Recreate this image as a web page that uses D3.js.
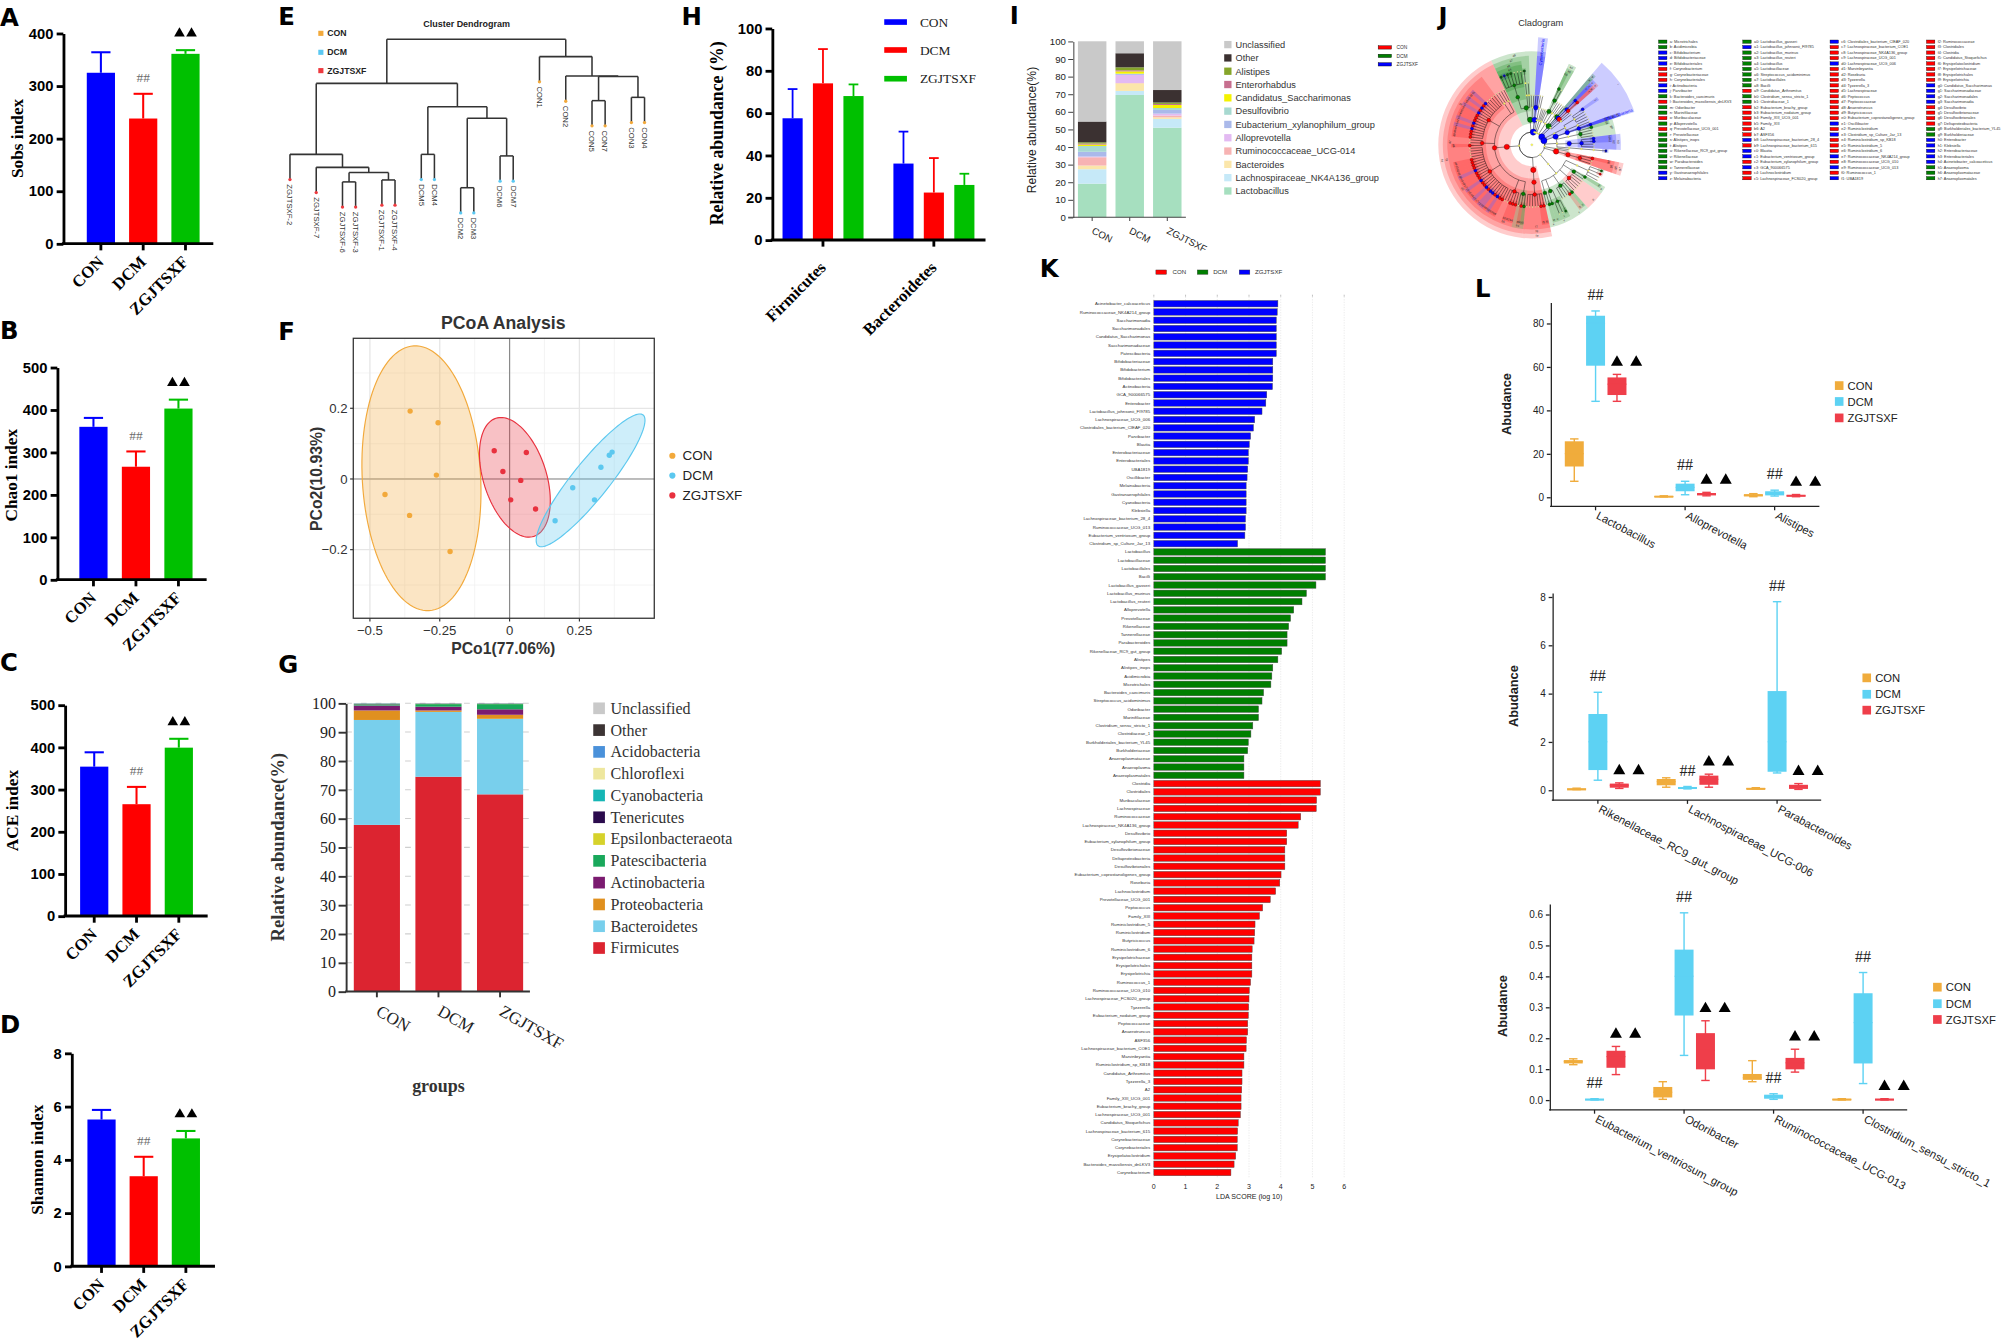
<!DOCTYPE html>
<html><head><meta charset="utf-8"><title>Gut microbiota figure</title>
<script src="https://cdn.jsdelivr.net/npm/d3@7/dist/d3.min.js"></script>
<style>html,body{margin:0;padding:0;background:#fff;overflow:hidden}svg{display:block}</style>
</head><body>
<svg id="fig" width="2010" height="1342" viewBox="0 0 1568 1046.9" preserveAspectRatio="none"></svg>
<script>
// ======================= DATA =======================
const groups = ["CON", "DCM", "ZGJTSXF"];
// A-D alpha diversity: mean and SD
const sobsMean = [325, 238, 361], sobsSD = [39, 47, 7], sobsTicks = [0, 100, 200, 300, 400];
const chao1Mean = [360, 266, 403], chao1SD = [21, 36, 21], chao1Ticks = [0, 100, 200, 300, 400, 500];
const aceMean = [354, 265, 399], aceSD = [34, 41, 21], aceTicks = [0, 100, 200, 300, 400, 500];
const shannonMean = [5.51, 3.38, 4.80], shannonSD = [0.36, 0.73, 0.28], shannonTicks = [0, 2, 4, 6, 8];

// E dendrogram (merge heights, leaves in plotted order)
const dendroTree = {h: 1.0, c: [
  {h: 0.773, c: [
    {h: 0.407, c: ["ZGJTSXF-2", {h: 0.340, c: ["ZGJTSXF-7", {h: 0.313, c: [
      {h: 0.265, c: ["ZGJTSXF-6", "ZGJTSXF-3"]}, {h: 0.275, c: ["ZGJTSXF-1", "ZGJTSXF-4"]}]}]}]},
    {h: 0.653, c: [{h: 0.407, c: ["DCM5", "DCM4"]},
      {h: 0.593, c: [{h: 0.235, c: ["DCM2", "DCM3"]}, {h: 0.399, c: ["DCM6", "DCM7"]}]}]}]},
  {h: 0.911, c: ["CON1", {h: 0.811, c: ["CON2", {h: 0.808, c: [
      {h: 0.684, c: ["CON5", "CON7"]}, {h: 0.701, c: ["CON3", "CON4"]}]}]}]}]};
const dendroSlots = [0, 2, 4, 5, 7, 8, 10, 11, 13, 14, 16, 17, 19, 21, 23, 24, 26, 27];
const dendroHang = 0.13;

// F PCoA
const pcoaCON = [[-0.356, 0.192], [-0.256, 0.159], [-0.262, 0.011], [-0.446, -0.044], [-0.358, -0.103], [-0.213, -0.205]];
const pcoaDCM = [[0.163, -0.118], [0.226, -0.025], [0.304, -0.059], [0.327, 0.033], [0.357, 0.067], [0.367, 0.076]];
const pcoaZGJ = [[-0.055, 0.080], [0.060, 0.075], [-0.024, 0.021], [0.040, -0.004], [0.004, -0.059], [0.093, -0.085]];
const ellipseCON = {c: [-0.3155, 0.002], u: [-0.0274, 0.3745], v: [0.2114, 0.0097]};
const ellipseZGJ = {c: [0.019, 0.0047], u: [-0.068, 0.167], v: [0.107, 0.0275]};
const ellipseDCM = {c: [0.290, -0.004], u: [0.188, 0.185], v: [0.051, -0.0325]};
const pcoaXTicks = [-0.5, -0.25, 0, 0.25], pcoaYTicks = [-0.2, 0, 0.2];

// G phylum composition (%), stacked bottom -> top
const phylumNames = ["Firmicutes", "Bacteroidetes", "Proteobacteria", "Actinobacteria", "Patescibacteria", "Epsilonbacteraeota", "Tenericutes", "Cyanobacteria", "Chloroflexi", "Acidobacteria", "Other", "Unclassified"];
const phylumCON = [57.8, 36.4, 3.3, 1.7, 0.4, 0.05, 0.1, 0.1, 0.02, 0.02, 0.06, 0.05];
const phylumDCM = [74.5, 22.5, 0.5, 1.3, 0.9, 0.05, 0.05, 0.05, 0.02, 0.02, 0.06, 0.05];
const phylumZGJ = [68.4, 26.2, 1.4, 1.9, 1.8, 0.05, 0.08, 0.05, 0.02, 0.02, 0.03, 0.05];
const phylumColors = ["#DC2430", "#78CFEC", "#E0901F", "#7B1B70", "#19A85B", "#D6D22B", "#2B0B4D", "#16B6B5", "#EEE79E", "#4A91DA", "#3C3434", "#C9C9C9"];
const pctTicks = [0, 10, 20, 30, 40, 50, 60, 70, 80, 90, 100];

// H Firmicutes / Bacteroidetes (mean, SD)
const hPhyla = ["Firmicutes", "Bacteroidetes"];
const firmMean = [57.5, 74.0, 68.0], firmSD = [13.8, 16.2, 5.5];
const bactMean = [36.1, 22.4, 26.0], bactSD = [15.1, 16.3, 5.3];
const hTicks = [0, 20, 40, 60, 80, 100];

// I genus composition (%), stacked bottom -> top
const genusNames = ["Lactobacillus", "Lachnospiraceae_NK4A136_group", "Bacteroides", "Ruminococcaceae_UCG-014", "Alloprevotella", "Eubacterium_xylanophilum_group", "Desulfovibrio", "Candidatus_Saccharimonas", "Enterorhabdus", "Alistipes", "Other", "Unclassified"];
const genusCON = [19.1, 8.2, 2.1, 4.7, 0.4, 2.7, 3.3, 0.8, 0.6, 0.7, 11.8, 45.6];
const genusDCM = [69.5, 2.3, 4.3, 0.2, 4.6, 0.5, 0.2, 1.3, 0.6, 1.7, 8.0, 6.8];
const genusZGJ = [50.9, 5.0, 0.9, 1.0, 1.1, 2.1, 1.1, 1.7, 0.6, 0.8, 7.1, 27.7];
const genusColors = ["#A6DFBF", "#C6E9F8", "#FBE6AA", "#F7B3B3", "#E3BAF2", "#AAB9EA", "#A7D9D0", "#F4F200", "#C76F8F", "#86A52A", "#3B3131", "#C9C9C9"];

// K LEfSe LDA scores
const kZgjTaxa = ["Acinetobacter_calcoaceticus", "Ruminococcaceae_NK4A214_group", "Saccharimonadia", "Saccharimonadales", "Candidatus_Saccharimonas", "Saccharimonadaceae", "Patescibacteria", "Bifidobacteriaceae", "Bifidobacterium", "Bifidobacteriales", "Actinobacteria", "GCA_900066575", "Enterobacter", "Lactobacillus_johnsonii_FI9785", "Lachnospiraceae_UCG_006", "Clostridiales_bacterium_CIEAF_020", "Parvibacter", "Blautia", "Enterobacteriaceae", "Enterobacteriales", "UBA1819", "Oscillibacter", "Melainabacteria", "Gastranaerophilales", "Cyanobacteria", "Klebsiella", "Lachnospiraceae_bacterium_28_4", "Ruminococcaceae_UCG_013", "Eubacterium_ventriosum_group", "Clostridium_sp_Culture_Jar_13"];
const kZgjLDA = [3.91, 3.89, 3.86, 3.86, 3.86, 3.86, 3.86, 3.75, 3.75, 3.75, 3.74, 3.56, 3.53, 3.41, 3.18, 3.14, 3.05, 3.01, 2.98, 2.98, 2.96, 2.94, 2.91, 2.91, 2.91, 2.91, 2.89, 2.89, 2.87, 2.64];
const kDcmTaxa = ["Lactobacillus", "Lactobacillaceae", "Lactobacillales", "Bacilli", "Lactobacillus_gasseri", "Lactobacillus_murinus", "Lactobacillus_reuteri", "Alloprevotella", "Prevotellaceae", "Rikenellaceae", "Tannerellaceae", "Parabacteroides", "Rikenellaceae_RC9_gut_group", "Alistipes", "Alistipes_inops", "Acidimicrobia", "Microtrichales", "Bacteroides_caecimuris", "Streptococcus_acidominimus", "Odoribacter", "Marinifilaceae", "Clostridium_sensu_stricto_1", "Clostridiaceae_1", "Burkholderiales_bacterium_YL45", "Burkholderiaceae", "Anaeroplasmataceae", "Anaeroplasma", "Anaeroplasmatales"];
const kDcmLDA = [5.41, 5.41, 5.41, 5.41, 5.11, 4.81, 4.67, 4.41, 4.31, 4.25, 4.20, 4.20, 4.03, 3.91, 3.75, 3.72, 3.69, 3.46, 3.41, 3.30, 3.30, 3.12, 3.06, 2.98, 2.96, 2.84, 2.84, 2.84];
const kConTaxa = ["Clostridia", "Clostridiales", "Muribaculaceae", "Lachnospiraceae", "Ruminococcaceae", "Lachnospiraceae_NK4A136_group", "Desulfovibrio", "Eubacterium_xylanophilum_group", "Desulfovibrionaceae", "Deltaproteobacteria", "Desulfovibrionales", "Eubacterium_coprostanoligenes_group", "Roseburia", "Lachnoclostridium", "Prevotellaceae_UCG_001", "Peptococcus", "Family_XIII", "Ruminiclostridium_5", "Ruminiclostridium", "Butyricicoccus", "Ruminiclostridium_6", "Erysipelotrichaceae", "Erysipelotrichales", "Erysipelotrichia", "Ruminococcus_1", "Ruminococcaceae_UCG_010", "Lachnospiraceae_FCS020_group", "Tyzzerella", "Eubacterium_nodatum_group", "Peptococcaceae", "Anaerotruncus", "ASF356", "Lachnospiraceae_bacterium_COE1", "Marvinbryantia", "Ruminiclostridium_sp_KB18", "Candidatus_Arthromitus", "Tyzzerella_3", "A2", "Family_XIII_UCG_001", "Eubacterium_brachy_group", "Lachnospiraceae_UCG_001", "Candidatus_Stoquefichus", "Lachnospiraceae_bacterium_615", "Corynebacteriaceae", "Corynebacteriales", "Erysipelatoclostridium", "Bacteroides_massiliensis_dnLKV3", "Corynebacterium"];
const kConLDA = [5.25, 5.25, 5.13, 5.12, 4.63, 4.55, 4.19, 4.19, 4.13, 4.13, 4.13, 4.01, 3.97, 3.84, 3.67, 3.43, 3.33, 3.19, 3.18, 3.16, 3.10, 3.09, 3.09, 3.09, 3.05, 3.01, 3.00, 2.99, 2.98, 2.96, 2.96, 2.92, 2.91, 2.84, 2.84, 2.78, 2.78, 2.77, 2.75, 2.75, 2.73, 2.66, 2.64, 2.63, 2.63, 2.58, 2.53, 2.43];
const kTicks = [0, 1, 2, 3, 4, 5, 6];

// J cladogram taxonomy (last field may list several taxa; *n = n unlabelled taxa)
const cladoLineages = [
  "Tenericutes;Mollicutes;Anaeroplasmatales;Anaeroplasmataceae;Anaeroplasma,*1",
  "Tenericutes;Mollicutes;Mollicutes_RF39;*2",
  "Tenericutes;Mollicutes;Mycoplasmatales;*2",
  "Actinobacteria;Acidimicrobia;Microtrichales;*1",
  "Actinobacteria;Actinobacteria_c;Bifidobacteriales;Bifidobacteriaceae;Bifidobacterium",
  "Actinobacteria;Actinobacteria_c;Corynebacteriales;Corynebacteriaceae;Corynebacterium",
  "Actinobacteria;Actinobacteria_c;Micrococcales;*2",
  "Actinobacteria;Coriobacteriia;Coriobacteriales;Eggerthellaceae;Parvibacter,*3",
  "Actinobacteria;Coriobacteriia;Coriobacteriales;Atopobiaceae;*2",
  "Patescibacteria;Saccharimonadia;Saccharimonadales;Saccharimonadaceae;Candidatus_Saccharimonas",
  "Proteobacteria;Gammaproteobacteria;Betaproteobacteriales;Burkholderiaceae;Burkholderiales_bacterium_YL45,*3",
  "Proteobacteria;Gammaproteobacteria;Enterobacteriales;Enterobacteriaceae;Enterobacter,Klebsiella,*2",
  "Proteobacteria;Gammaproteobacteria;Pseudomonadales;Moraxellaceae;Acinetobacter;Acinetobacter_calcoaceticus",
  "Proteobacteria;Alphaproteobacteria;*2",
  "Proteobacteria;Deltaproteobacteria;Desulfovibrionales;Desulfovibrionaceae;Desulfovibrio,*2",
  "Bacteroidetes;Bacteroidia;Bacteroidales;Bacteroidaceae;Bacteroides;Bacteroides_caecimuris,Bacteroides_massiliensis_dnLKV3,*2",
  "Bacteroidetes;Bacteroidia;Bacteroidales;Marinifilaceae;Odoribacter,*1",
  "Bacteroidetes;Bacteroidia;Bacteroidales;Muribaculaceae;*5",
  "Bacteroidetes;Bacteroidia;Bacteroidales;Prevotellaceae;Alloprevotella,Prevotellaceae_UCG_001,*3",
  "Bacteroidetes;Bacteroidia;Bacteroidales;Rikenellaceae;Alistipes;Alistipes_inops,*2",
  "Bacteroidetes;Bacteroidia;Bacteroidales;Rikenellaceae;Rikenellaceae_RC9_gut_group",
  "Bacteroidetes;Bacteroidia;Bacteroidales;Tannerellaceae;Parabacteroides,*1",
  "Firmicutes;Erysipelotrichia;Erysipelotrichales;Erysipelotrichaceae;Erysipelatoclostridium,Candidatus_Stoquefichus,*5",
  "Firmicutes;Clostridia;Clostridiales;Clostridiaceae_1;Clostridium_sensu_stricto_1,Candidatus_Arthromitus,*1",
  "Firmicutes;Clostridia;Clostridiales;Family_XIII;Family_XIII_UCG_001,Eubacterium_brachy_group,Eubacterium_nodatum_group,*2",
  "Firmicutes;Clostridia;Clostridiales;Lachnospiraceae;A2,ASF356,Lachnospiraceae_bacterium_28_4,Lachnospiraceae_bacterium_615,Blautia,Eubacterium_ventriosum_group,Eubacterium_xylanophilum_group,GCA_900066575,Lachnoclostridium,Lachnospiraceae_FCS020_group,Clostridiales_bacterium_CIEAF_020,Lachnospiraceae_bacterium_COE1,Lachnospiraceae_NK4A136_group,Lachnospiraceae_UCG_001,Lachnospiraceae_UCG_006,Marvinbryantia,Roseburia,Tyzzerella,Tyzzerella_3,*4",
  "Firmicutes;Clostridia;Clostridiales;Peptococcaceae;Peptococcus,*2",
  "Firmicutes;Clostridia;Clostridiales;Ruminococcaceae;Anaerotruncus,Butyricicoccus,Eubacterium_coprostanoligenes_group,Oscillibacter,Ruminiclostridium,Clostridium_sp_Culture_Jar_13,Ruminiclostridium_sp_KB18,Ruminiclostridium_5,Ruminiclostridium_6,Ruminococcaceae_NK4A214_group,Ruminococcaceae_UCG_010,Ruminococcaceae_UCG_013,Ruminococcus_1,UBA1819,*4",
  "Firmicutes;Clostridia;Clostridiales;Peptostreptococcaceae;*2",
  "Firmicutes;Clostridia;Clostridiales;Defluviitaleaceae;*2",
  "Firmicutes;Bacilli;Lactobacillales;Lactobacillaceae;Lactobacillus;Lactobacillus_gasseri,Lactobacillus_johnsonii_FI9785,Lactobacillus_murinus,Lactobacillus_reuteri,*3",
  "Firmicutes;Bacilli;Lactobacillales;Streptococcaceae;Streptococcus;Streptococcus_acidominimus",
  "Firmicutes;Bacilli;Lactobacillales;Enterococcaceae;*1",
  "Firmicutes;Bacilli;Bacillales;*2",
  "Cyanobacteria;Melainabacteria;Gastranaerophilales;*2",
  "Deferribacteres;Deferribacteres_c;Deferribacterales;*2",
  "Verrucomicrobia;Verrucomicrobiae;*2",
  "Epsilonbacteraeota;Campylobacteria;*2"
];
const jCodes = ("a b c d e f g h i j k l m n o p q r s t u v w x y z " +
  "a0 a1 a2 a3 a4 a5 a6 a7 a8 a9 b0 b1 b2 b3 b4 b5 b6 b7 b8 b9 c0 c1 c2 c3 c4 c5 " +
  "c6 c7 c8 c9 d0 d1 d2 d3 d4 d5 d6 d7 d8 d9 e0 e1 e2 e3 e4 e5 e6 e7 e8 e9 f0 f1 " +
  "f2 f3 f4 f5 f6 f7 f8 f9 g0 g1 g2 g3 g4 g5 g6 g7 g8 g9 h0 h1 h2 h3 h4 h5 h6 h7").split(" ");
const jLegendNames = ["Microtrichales", "Acidimicrobia", "Bifidobacterium", "Bifidobacteriaceae", "Bifidobacteriales", "Corynebacterium", "Corynebacteriaceae", "Corynebacteriales", "Actinobacteria", "Parvibacter", "Bacteroides_caecimuris", "Bacteroides_massiliensis_dnLKV3", "Odoribacter", "Marinifilaceae", "Muribaculaceae", "Alloprevotella", "Prevotellaceae_UCG_001", "Prevotellaceae", "Alistipes_inops", "Alistipes", "Rikenellaceae_RC9_gut_group", "Rikenellaceae", "Parabacteroides", "Tannerellaceae", "Gastranaerophilales", "Melainabacteria",
  "Lactobacillus_gasseri", "Lactobacillus_johnsonii_FI9785", "Lactobacillus_murinus", "Lactobacillus_reuteri", "Lactobacillus", "Lactobacillaceae", "Streptococcus_acidominimus", "Lactobacillales", "Bacilli", "Candidatus_Arthromitus", "Clostridium_sensu_stricto_1", "Clostridiaceae_1", "Eubacterium_brachy_group", "Eubacterium_nodatum_group", "Family_XIII_UCG_001", "Family_XIII", "A2", "ASF356", "Lachnospiraceae_bacterium_28_4", "Lachnospiraceae_bacterium_615", "Blautia", "Eubacterium_ventriosum_group", "Eubacterium_xylanophilum_group", "GCA_900066575", "Lachnoclostridium", "Lachnospiraceae_FCS020_group",
  "Clostridiales_bacterium_CIEAF_020", "Lachnospiraceae_bacterium_COE1", "Lachnospiraceae_NK4A136_group", "Lachnospiraceae_UCG_001", "Lachnospiraceae_UCG_006", "Marvinbryantia", "Roseburia", "Tyzzerella", "Tyzzerella_3", "Lachnospiraceae", "Peptococcus", "Peptococcaceae", "Anaerotruncus", "Butyricicoccus", "Eubacterium_coprostanoligenes_group", "Oscillibacter", "Ruminiclostridium", "Clostridium_sp_Culture_Jar_13", "Ruminiclostridium_sp_KB18", "Ruminiclostridium_5", "Ruminiclostridium_6", "Ruminococcaceae_NK4A214_group", "Ruminococcaceae_UCG_010", "Ruminococcaceae_UCG_013", "Ruminococcus_1", "UBA1819",
  "Ruminococcaceae", "Clostridiales", "Clostridia", "Candidatus_Stoquefichus", "Erysipelatoclostridium", "Erysipelotrichaceae", "Erysipelotrichales", "Erysipelotrichia", "Candidatus_Saccharimonas", "Saccharimonadaceae", "Saccharimonadales", "Saccharimonadia", "Desulfovibrio", "Desulfovibrionaceae", "Desulfovibrionales", "Deltaproteobacteria", "Burkholderiales_bacterium_YL45", "Burkholderiaceae", "Enterobacter", "Klebsiella", "Enterobacteriaceae", "Enterobacteriales", "Acinetobacter_calcoaceticus", "Anaeroplasma", "Anaeroplasmataceae", "Anaeroplasmatales"];

// L box plots: [low whisker, Q1, median, Q3, high whisker] for CON, DCM, ZGJTSXF
const lTopTaxa = ["Lactobacillus", "Alloprevotella", "Alistipes"];
const lTopStats = [
  [[7.3, 14.1, 20, 25.7, 26.8], [44.1, 60.5, 80, 83.5, 85.7], [44.1, 47.0, 52, 55.1, 56.5]],
  [[0.1, 0.2, 0.3, 0.4, 0.6], [1.1, 2.7, 4.5, 6.2, 7.3], [0.6, 0.8, 1.2, 1.9, 2.2]],
  [[0.2, 0.3, 0.8, 1.4, 1.6], [0.5, 0.8, 1.8, 2.7, 3.2], [0.2, 0.3, 0.6, 1.1, 1.2]]];
const lTopTicks = [0, 20, 40, 60, 80];
const lMidTaxa = ["Rikenellaceae_RC9_gut_group", "Lachnospiraceae_UCG-006", "Parabacteroides"];
const lMidStats = [
  [[0.02, 0.03, 0.05, 0.07, 0.08], [0.41, 0.83, 2.0, 3.15, 4.05], [0.07, 0.10, 0.2, 0.27, 0.30]],
  [[0.12, 0.20, 0.35, 0.46, 0.51], [0.05, 0.08, 0.1, 0.13, 0.15], [0.12, 0.22, 0.45, 0.60, 0.66]],
  [[0.04, 0.05, 0.07, 0.09, 0.10], [0.71, 0.76, 2.0, 4.10, 7.80], [0.03, 0.05, 0.15, 0.22, 0.27]]];
const lMidTicks = [0, 2, 4, 6, 8];
const lBotTaxa = ["Eubacterium_ventriosum_group", "Odoribacter", "Ruminococcaceae_UCG-013", "Clostridium_sensu_stricto_1"];
const lBotStats = [
  [[0.114, 0.118, 0.124, 0.129, 0.133], [0.0, 0.001, 0.002, 0.003, 0.004], [0.082, 0.104, 0.14, 0.159, 0.173]],
  [[0.002, 0.008, 0.025, 0.042, 0.059], [0.144, 0.273, 0.40, 0.486, 0.605], [0.063, 0.099, 0.16, 0.216, 0.256]],
  [[0.059, 0.065, 0.072, 0.084, 0.127], [0.002, 0.004, 0.01, 0.017, 0.020], [0.090, 0.099, 0.12, 0.136, 0.164]],
  [[0.0, 0.001, 0.002, 0.003, 0.004], [0.053, 0.118, 0.25, 0.345, 0.412], [0.0, 0.001, 0.002, 0.003, 0.004]]];
const lBotTicks = [0, 0.1, 0.2, 0.3, 0.4, 0.5, 0.6];

// ======================= DRAWING =======================
const svg = d3.select("#fig");
svg.append("rect").attr("width", 1568).attr("height", 1046.9).attr("fill", "#fff");
const SANS = "'Liberation Sans', Arial, Helvetica, sans-serif";
const SERIF = "'Liberation Serif', 'Times New Roman', serif";
const HEAVY = "'DejaVu Sans', 'Liberation Sans', sans-serif";
const DEG = Math.PI / 180;

function txt(parent, x, y, s, o = {}) {
  const t = parent.append("text").attr("x", x).attr("y", y).text(s)
    .attr("font-family", o.ff || SANS).attr("font-size", o.fs || 10).attr("fill", o.fill || "#000");
  if (o.fw) t.attr("font-weight", o.fw);
  if (o.anchor) t.attr("text-anchor", o.anchor);
  if (o.dy) t.attr("dy", o.dy);
  if (o.rot != null) t.attr("transform", `rotate(${o.rot},${x},${y})`);
  return t;
}
function line(parent, x1, y1, x2, y2, stroke, w, extra) {
  const l = parent.append("line").attr("x1", x1).attr("y1", y1).attr("x2", x2).attr("y2", y2)
    .attr("stroke", stroke).attr("stroke-width", w);
  if (extra) l.attr("stroke-dasharray", extra);
  return l;
}
function tri(parent, x, y, size) {
  parent.append("path").attr("d", d3.symbol(d3.symbolTriangle, size)()).attr("transform", `translate(${x},${y})`).attr("fill", "#000");
}
function styleAxis(sel, color, w, font, fs, fw, fill) {
  sel.select(".domain").attr("stroke", color).attr("stroke-width", w);
  sel.selectAll(".tick line").attr("stroke", color).attr("stroke-width", w);
  sel.selectAll(".tick text").attr("font-family", font).attr("font-size", fs).attr("font-weight", fw || "normal").attr("fill", fill || color);
}

// ---------- panel letters ----------
[["A", 0, 20.3], ["B", 0, 264.2], ["C", 0, 523.4], ["D", 0, 805.8], ["E", 217, 19.5], ["F", 217, 265.2], ["G", 217, 525.2],
 ["H", 531.7, 19.5], ["I", 787.8, 18.4], ["J", 1122.2, 19.5], ["K", 811.2, 215.8], ["L", 1150.6, 232]].forEach(([t, x, y]) =>
  txt(svg, x, y, t, {ff: HEAVY, fw: "bold", fs: 19}));

// ---------- A-D ----------
const barColors = ["#0000FF", "#FF0000", "#00C000"];
function alphaPanel(o) {
  const g = svg.append("g");
  const x = d3.scalePoint().domain(groups).range(o.centers);
  const y = d3.scaleLinear().domain([0, d3.max(o.ticks)]).range([o.y0, o.yTop]);
  const bw = 22;
  g.selectAll("rect.bar").data(o.mean).join("rect").attr("class", "bar")
    .attr("x", (d, i) => x(groups[i]) - bw / 2).attr("width", bw)
    .attr("y", d => y(d)).attr("height", d => o.y0 - y(d)).attr("fill", (d, i) => barColors[i]);
  o.mean.forEach((m, i) => {
    const cx = x(groups[i]), top = y(m + o.sd[i]);
    line(g, cx, y(m), cx, top, barColors[i], 1.6);
    line(g, cx - 7.5, top, cx + 7.5, top, barColors[i], 1.6);
  });
  txt(g, x("DCM"), y(o.mean[1] + o.sd[1]) - 9, "##", {ff: SERIF, fs: 10.5, fill: "#6b6b6b", anchor: "middle"});
  const zt = y(o.mean[2] + o.sd[2]) - 13;
  [-4.7, 4.7].forEach(dx => tri(g, x("ZGJTSXF") + dx, zt, 30));
  const ay = g.append("g").attr("transform", `translate(${o.axisX},0)`)
    .call(d3.axisLeft(y).tickValues(o.ticks).tickSize(5.2).tickSizeOuter(0).tickPadding(2.5).tickFormat(d3.format("~g")));
  styleAxis(ay, "#000", 2.2, SANS, 11.5, "bold");
  line(g, o.axisX - 1.1, o.y0, o.xEnd, o.y0, "#000", 2.2);
  groups.forEach(gr => {
    line(g, x(gr), o.y0, x(gr), o.y0 + 5.2, "#000", 2.2);
    txt(g, x(gr) + 3, o.y0 + 15, gr, {ff: SERIF, fw: "bold", fs: 13, anchor: "end", rot: -45});
  });
  txt(g, o.titleX, o.titleY, o.title, {ff: SERIF, fw: "bold", fs: 13.5, anchor: "middle", rot: -90, dy: "0.35em"});
}
alphaPanel({mean: sobsMean, sd: sobsSD, ticks: sobsTicks, centers: [78.7, 144.7], y0: 190.1, yTop: 26.0, axisX: 49.4, xEnd: 166.4, title: "Sobs index", titleX: 13, titleY: 108});
alphaPanel({mean: chao1Mean, sd: chao1SD, ticks: chao1Ticks, centers: [72.9, 139.2], y0: 452.2, yTop: 286.6, axisX: 44.7, xEnd: 161.2, title: "Chao1 index", titleX: 8.5, titleY: 370.7});
alphaPanel({mean: aceMean, sd: aceSD, ticks: aceTicks, centers: [73.5, 139.5], y0: 714.6, yTop: 550.0, axisX: 50.7, xEnd: 162, title: "ACE index", titleX: 9.5, titleY: 632.3});
alphaPanel({mean: shannonMean, sd: shannonSD, ticks: shannonTicks, centers: [79.2, 145.0], y0: 987.8, yTop: 821.6, axisX: 55.9, xEnd: 167.7, title: "Shannon index", titleX: 28.6, titleY: 904.7});

// ---------- E dendrogram ----------
(function () {
  const g = svg.append("g");
  const grpColor = {CON: "#F2A93B", DCM: "#5BC8F2", ZGJTSXF: "#EE3A3F"};
  const ex = d3.scaleLinear().domain([0, 27]).range([226.2, 502.8]);
  const ey = d3.scaleLinear().domain([0, 1]).range([182, 30.7]);
  let li = 0;
  function build(n) {
    if (typeof n === "string") return {name: n, slot: dendroSlots[li++]};
    const kids = n.c.map(build);
    return {h: n.h, kids, slot: (kids[0].slot + kids[kids.length - 1].slot) / 2};
  }
  const root = build(dendroTree);
  function draw(n) {
    line(g, ex(n.kids[0].slot), ey(n.h), ex(n.kids[n.kids.length - 1].slot), ey(n.h), "#333", 1.2);
    n.kids.forEach(k => {
      const kh = k.kids ? k.h : n.h - dendroHang;
      line(g, ex(k.slot), ey(n.h), ex(k.slot), ey(kh), "#333", 1.2);
      if (k.kids) draw(k);
      else {
        const grp = groups.find(gr => k.name.startsWith(gr));
        g.append("circle").attr("cx", ex(k.slot)).attr("cy", ey(kh)).attr("r", 1.3).attr("fill", grpColor[grp]);
        txt(g, ex(k.slot), ey(kh) + 3.6, k.name, {fs: 6, fill: "#333", rot: 90, dy: "0.35em"});
      }
    });
  }
  draw(root);
  txt(g, 364, 21, "Cluster Dendrogram", {fw: "bold", fs: 7, fill: "#222", anchor: "middle"});
  groups.forEach((gr, i) => {
    const yy = [26, 40.8, 55.1][i];
    g.append("rect").attr("x", 248.3).attr("y", yy - 2).attr("width", 4).attr("height", 4).attr("fill", grpColor[gr]);
    txt(g, 255.3, yy + 2.4, gr, {fw: "bold", fs: 6.8, fill: "#222"});
  });
})();

// ---------- F PCoA ----------
(function () {
  const g = svg.append("g");
  const L = 275.6, R = 510.4, T = 263.9, B = 482.3;
  const fx = d3.scaleLinear().domain([-0.5595, 0.518]).range([L, R]);
  const fy = d3.scaleLinear().domain([-0.394, 0.398]).range([B, T]);
  const col = {CON: "#F2A93B", DCM: "#5CC8EF", ZGJTSXF: "#E8313E"};
  [-0.375, -0.125, 0.125, 0.375].forEach(v => line(g, fx(v), T, fx(v), B, "#F0F0F0", 0.6));
  [-0.3, -0.1, 0.1, 0.3].forEach(v => line(g, L, fy(v), R, fy(v), "#F0F0F0", 0.6));
  pcoaXTicks.forEach(v => line(g, fx(v), T, fx(v), B, "#E6E6E6", 1));
  pcoaYTicks.forEach(v => line(g, L, fy(v), R, fy(v), "#E6E6E6", 1));
  line(g, fx(0), T, fx(0), B, "#8a8a8a", 0.9);
  line(g, L, fy(0), R, fy(0), "#8a8a8a", 0.9);
  const ellPath = e => {
    const pts = d3.range(0, 2 * Math.PI + 0.001, Math.PI / 60).map(t =>
      [fx(e.c[0] + e.u[0] * Math.cos(t) + e.v[0] * Math.sin(t)), fy(e.c[1] + e.u[1] * Math.cos(t) + e.v[1] * Math.sin(t))]);
    return d3.line()(pts) + "Z";
  };
  [[ellipseCON, "CON"], [ellipseZGJ, "ZGJTSXF"], [ellipseDCM, "DCM"]].forEach(([e, k]) =>
    g.append("path").attr("d", ellPath(e)).attr("fill", col[k]).attr("fill-opacity", 0.3).attr("stroke", col[k]).attr("stroke-width", 0.9));
  [[pcoaCON, "CON"], [pcoaZGJ, "ZGJTSXF"], [pcoaDCM, "DCM"]].forEach(([pts, k]) =>
    g.selectAll(null).data(pts).join("circle").attr("cx", d => fx(d[0])).attr("cy", d => fy(d[1])).attr("r", 2.1).attr("fill", col[k]));
  g.append("rect").attr("x", L).attr("y", T).attr("width", R - L).attr("height", B - T).attr("fill", "none").attr("stroke", "#333").attr("stroke-width", 1);
  pcoaXTicks.forEach(v => { line(g, fx(v), B, fx(v), B + 2.5, "#333", 0.9); txt(g, fx(v), B + 12.8, d3.format("~g")(v), {fs: 10.3, fill: "#333", anchor: "middle"}); });
  pcoaYTicks.forEach(v => { line(g, L - 2.5, fy(v), L, fy(v), "#333", 0.9); txt(g, L - 4.5, fy(v) + 3.6, d3.format("~g")(v), {fs: 10.3, fill: "#333", anchor: "end"}); });
  txt(g, 392.6, 256.5, "PCoA Analysis", {fw: "bold", fs: 13.8, fill: "#333", anchor: "middle"});
  txt(g, 392.6, 510, "PCo1(77.06%)", {fw: "bold", fs: 12.3, fill: "#333", anchor: "middle"});
  txt(g, 247, 373.6, "PCo2(10.93%)", {fw: "bold", fs: 12.3, fill: "#333", anchor: "middle", rot: -90, dy: "0.35em"});
  groups.forEach((gr, i) => {
    const yy = [355.5, 371, 386.5][i];
    g.append("circle").attr("cx", 524.5).attr("cy", yy).attr("r", 2.4).attr("fill", col[gr]);
    txt(g, 532.5, yy + 3.7, gr, {fs: 10.5, fill: "#222"});
  });
})();

// ---------- G phylum stacked bars ----------
(function () {
  const g = svg.append("g");
  const x = d3.scalePoint().domain(groups).range([294, 390.1]);
  const y = d3.scaleLinear().domain([0, 100]).range([773.5, 548.6]);
  const vals = [phylumCON, phylumDCM, phylumZGJ];
  const rows = groups.map((gr, gi) => { const o = {group: gr}; phylumNames.forEach((p, pi) => o[p] = vals[gi][pi]); return o; });
  const series = d3.stack().keys(phylumNames)(rows);
  pctTicks.slice(1).forEach(v => line(g, 270, y(v), 413.4, y(v), "#cfcfcf", 0.8, "4.5,7"));
  series.forEach((s, si) => g.selectAll(null).data(s).join("rect")
    .attr("x", (d, i) => x(groups[i]) - 18).attr("width", 36)
    .attr("y", d => y(d[1])).attr("height", d => Math.max(0, y(d[0]) - y(d[1]))).attr("fill", phylumColors[si]));
  const ay = g.append("g").attr("transform", "translate(269.9,0)")
    .call(d3.axisLeft(y).tickValues(pctTicks).tickSize(5.8).tickSizeOuter(0).tickPadding(2));
  styleAxis(ay, "#333", 1.5, SERIF, 12.5, "normal", "#222");
  line(g, 269.2, 773.5, 413.4, 773.5, "#333", 1.5);
  groups.forEach(gr => {
    line(g, x(gr), 773.5, x(gr), 778, "#333", 1.5);
    txt(g, x(gr) - 1.5, 791.5, gr, {ff: SERIF, fs: 13.2, fill: "#222", rot: 30});
  });
  txt(g, 216.3, 660.9, "Relative abundance(%)", {ff: SERIF, fw: "bold", fs: 14.6, fill: "#333", anchor: "middle", rot: -90, dy: "0.35em"});
  txt(g, 342, 851.5, "groups", {ff: SERIF, fw: "bold", fs: 14, fill: "#333", anchor: "middle"});
  phylumNames.slice().reverse().forEach((p, i) => {
    const yy = 552.5 + i * 17.0, ci = phylumNames.indexOf(p);
    g.append("rect").attr("x", 462.8).attr("y", yy - 4.5).attr("width", 9.1).attr("height", 9.1).attr("fill", phylumColors[ci]);
    txt(g, 476.3, yy + 4.3, p, {ff: SERIF, fs: 12.5, fill: "#333"});
  });
})();

// ---------- H ----------
(function () {
  const g = svg.append("g");
  const x0 = d3.scalePoint().domain(hPhyla).range([642, 728.5]);
  const y = d3.scaleLinear().domain([0, 100]).range([187.2, 22.1]);
  const offs = [-23.7, 0, 23.8], bw = 15.7;
  const means = [firmMean, bactMean], sds = [firmSD, bactSD];
  hPhyla.forEach((p, pi) => groups.forEach((gr, gi) => {
    const cx = x0(p) + offs[gi], m = means[pi][gi], top = y(m + sds[pi][gi]);
    g.append("rect").attr("x", cx - bw / 2).attr("width", bw).attr("y", y(m)).attr("height", 187.2 - y(m)).attr("fill", barColors[gi]);
    line(g, cx, y(m), cx, top, barColors[gi], 1.4);
    line(g, cx - 3.8, top, cx + 3.8, top, barColors[gi], 1.4);
  }));
  const ay = g.append("g").attr("transform", "translate(602.4,0)")
    .call(d3.axisLeft(y).tickValues(hTicks).tickSize(5.2).tickSizeOuter(0).tickPadding(2.5));
  styleAxis(ay, "#000", 2.2, SANS, 11.5, "bold");
  line(g, 601.3, 187.2, 768.8, 187.2, "#000", 2.2);
  hPhyla.forEach(p => {
    line(g, x0(p), 187.2, x0(p), 192.4, "#000", 2.2);
    txt(g, x0(p) + 3, 209.5, p, {ff: SERIF, fw: "bold", fs: 13, anchor: "end", rot: -45});
  });
  txt(g, 559, 104, "Relative abundance (%)", {ff: SERIF, fw: "bold", fs: 13.9, anchor: "middle", rot: -90, dy: "0.35em"});
  groups.forEach((gr, i) => {
    const yy = [17.2, 39, 61.4][i];
    g.append("rect").attr("x", 689.8).attr("y", yy - 2.2).attr("width", 17.7).attr("height", 4.4).attr("fill", barColors[i]);
    txt(g, 717.6, yy + 3.6, gr, {ff: SERIF, fs: 10.5, fill: "#222"});
  });
})();

// ---------- I genus stacked bars ----------
(function () {
  const g = svg.append("g");
  const x = d3.scalePoint().domain(groups).range([852, 910.6]);
  const y = d3.scaleLinear().domain([0, 100]).range([169.5, 32.2]);
  const vals = [genusCON, genusDCM, genusZGJ];
  const rows = groups.map((gr, gi) => { const o = {}; genusNames.forEach((p, pi) => o[p] = vals[gi][pi]); return o; });
  const series = d3.stack().keys(genusNames)(rows);
  series.forEach((s, si) => g.selectAll(null).data(s).join("rect")
    .attr("x", (d, i) => x(groups[i]) - 11.1).attr("width", 22.2)
    .attr("y", d => y(d[1])).attr("height", d => Math.max(0, y(d[0]) - y(d[1]))).attr("fill", genusColors[si]));
  const ay = g.append("g").attr("transform", "translate(837.2,0)")
    .call(d3.axisLeft(y).tickValues(pctTicks).tickSize(3.9).tickSizeOuter(0).tickPadding(1.8));
  styleAxis(ay, "#444", 0.8, SANS, 7.5, "normal", "#222");
  line(g, 833.3, 169.5, 925.1, 169.5, "#444", 0.8);
  groups.forEach(gr => {
    line(g, x(gr), 169.5, x(gr), 172.5, "#444", 0.8);
    txt(g, x(gr) - 1, 181.8, gr, {fs: 7.6, fill: "#222", rot: 27});
  });
  txt(g, 804.7, 101.4, "Relative abundance(%)", {fs: 9.5, fill: "#222", anchor: "middle", rot: -90, dy: "0.35em"});
  genusNames.slice().reverse().forEach((p, i) => {
    const yy = 34.8 + i * 10.38, ci = genusNames.indexOf(p);
    g.append("rect").attr("x", 955).attr("y", yy - 2.85).attr("width", 5.7).attr("height", 5.7).attr("fill", genusColors[ci]);
    txt(g, 963.8, yy + 2.6, p, {fs: 7.2, fill: "#333"});
  });
})();

// ---------- K LEfSe bars ----------
const kTaxa = kZgjTaxa.concat(kDcmTaxa, kConTaxa);
const kVals = kZgjLDA.concat(kDcmLDA, kConLDA);
const kGrp = kZgjTaxa.map(() => "ZGJTSXF").concat(kDcmTaxa.map(() => "DCM"), kConTaxa.map(() => "CON"));
const lefseColor = {CON: "#FF0000", DCM: "#007F00", ZGJTSXF: "#0000FF"};
(function () {
  const g = svg.append("g");
  const ky = d3.scaleBand().domain(d3.range(kTaxa.length)).range([233.7, 917.9]).paddingInner(0.22).paddingOuter(0.11);
  const kx = d3.scaleLinear().domain([0, 6]).range([900.1, 1048.6]);
  kTicks.forEach(v => {
    line(g, kx(v), 231.4, kx(v), 918.5, "#d9d9d9", 0.4, "1,1");
    line(g, kx(v), 229.9, kx(v), 231.4, "#888", 0.4);
    txt(g, kx(v), 927.6, v, {fs: 5.5, fill: "#222", anchor: "middle"});
  });
  g.selectAll(null).data(kVals).join("rect")
    .attr("x", kx(0)).attr("y", (d, i) => ky(i)).attr("height", ky.bandwidth())
    .attr("width", d => kx(d) - kx(0)).attr("fill", (d, i) => lefseColor[kGrp[i]])
    .attr("stroke", "#4a4a4a").attr("stroke-width", 0.35);
  kTaxa.forEach((t, i) => txt(g, 897.2, ky(i) + ky.bandwidth() / 2 + 1.2, t, {fs: 3.4, fill: "#333", anchor: "end"}));
  txt(g, 974.5, 935.3, "LDA SCORE (log 10)", {fs: 5.5, fill: "#222", anchor: "middle"});
  [["CON", 901.7, 914.7], ["DCM", 934, 946.4], ["ZGJTSXF", 966.7, 979]].forEach(([gr, rx, tx]) => {
    g.append("rect").attr("x", rx).attr("y", 210.6).attr("width", 8.3).attr("height", 3.4).attr("fill", lefseColor[gr]).attr("stroke", "#333").attr("stroke-width", 0.3);
    txt(g, tx, 213.9, gr, {fs: 4.8, fill: "#333"});
  });
})();

// ---------- J cladogram ----------
(function () {
  const g = svg.append("g");
  const cx = 1195, cy = 113;
  const sigGroup = new Map(kTaxa.map((t, i) => [t, kGrp[i]]));
  const codeOf = new Map(jLegendNames.map((n, i) => [n, jCodes[i]]));
  const rootData = {name: "Bacteria", children: []};
  let anon = 0;
  cladoLineages.forEach(ln => {
    const parts = ln.split(";");
    let node = rootData;
    parts.forEach((p, pi) => {
      const last = pi === parts.length - 1;
      const items = last ? p.split(",") : [p];
      items.forEach(it => {
        node.children = node.children || [];
        if (it[0] === "*") {
          for (let k = 0; k < +it.slice(1); k++) node.children.push({name: "_" + (anon++)});
        } else {
          let ch = node.children.find(c => c.name === it);
          if (!ch) { ch = {name: it}; node.children.push(ch); }
          if (!last) node = ch;
        }
      });
    });
  });
  const root = d3.hierarchy(rootData);
  d3.cluster().size([360, 1]).separation(() => 1)(root);
  const step = 360 / root.leaves().length;
  const cyano = root.children.find(c => c.data.name === "Cyanobacteria");
  const rot = 366 - cyano.x;
  const ang = n => n.x + rot;
  const rad = d => 10 + (d - 1) * 9.6;
  const outerR = [0, 84, 73, 69.5, 66, 63, 60];
  const P = (a, r) => [cx + r * Math.sin(a * DEG), cy - r * Math.cos(a * DEG)];
  const arcGen = d3.arc();
  const sigNodes = root.descendants().filter(n => n.depth > 0 && sigGroup.has(n.data.name)).sort((a, b) => a.depth - b.depth);
  sigNodes.forEach(n => {
    const lv = n.leaves();
    const a0 = d3.min(lv, ang) - step / 2, a1 = d3.max(lv, ang) + step / 2;
    g.append("path").attr("transform", `translate(${cx},${cy})`)
      .attr("d", arcGen({innerRadius: Math.max(rad(n.depth) - 3, 0), outerRadius: outerR[n.depth], startAngle: a0 * DEG, endAngle: a1 * DEG}))
      .attr("fill", lefseColor[sigGroup.get(n.data.name)]).attr("fill-opacity", 0.2);
  });
  const p = d3.path();
  root.descendants().forEach(n => {
    if (n.depth === 0) return;
    const a = ang(n);
    if (n.depth > 1) { const [x0, y0] = P(a, rad(n.parent.depth)), [x1, y1] = P(a, rad(n.depth)); p.moveTo(x0, y0); p.lineTo(x1, y1); }
    if (n.children && n.children.length > 1) {
      const as = n.children.map(ang), amin = d3.min(as), amax = d3.max(as), r = rad(n.depth);
      const [sx, sy] = P(amin, r); p.moveTo(sx, sy); p.arc(cx, cy, r, (amin - 90) * DEG, (amax - 90) * DEG);
    }
  });
  p.moveTo(cx + rad(1), cy); p.arc(cx, cy, rad(1), 0, 2 * Math.PI);
  g.append("path").attr("d", p.toString()).attr("fill", "none").attr("stroke", "#000").attr("stroke-width", 0.35);
  root.descendants().forEach(n => {
    if (n.depth === 0) return;
    const [x, y] = P(ang(n), rad(n.depth));
    const grp = sigGroup.get(n.data.name);
    if (grp) g.append("circle").attr("cx", x).attr("cy", y).attr("r", 0.9 + (6 - n.depth) * 0.3).attr("fill", lefseColor[grp]).attr("stroke", "#000").attr("stroke-width", 0.2);
    else if (n.children) g.append("circle").attr("cx", x).attr("cy", y).attr("r", 0.75).attr("fill", "#FFFF55").attr("stroke", "#888").attr("stroke-width", 0.15);
    else g.append("circle").attr("cx", x).attr("cy", y).attr("r", 0.45).attr("fill", "#FFFF99").attr("stroke", "#999").attr("stroke-width", 0.12);
  });
  sigNodes.forEach(n => {
    const lv = n.leaves();
    const am = (d3.min(lv, ang) + d3.max(lv, ang)) / 2, a = ((am % 360) + 360) % 360;
    const grp = sigGroup.get(n.data.name);
    if (codeOf.has(n.data.name)) {
      const [x, y] = P(am, outerR[n.depth] - 2);
      const r = (a > 90 && a < 270) ? a + 180 : a;
      txt(g, x, y, codeOf.get(n.data.name), {fs: 2.3, fill: "#222", anchor: "middle", rot: r, dy: "0.35em"});
    } else {
      const [x, y] = P(am, outerR[n.depth] - 1);
      if (a < 180) txt(g, x, y, n.data.name, {fs: 3.2, fill: lefseColor[grp], anchor: "end", rot: a - 90, dy: "0.35em"});
      else txt(g, x, y, n.data.name, {fs: 3.2, fill: lefseColor[grp], anchor: "start", rot: a + 90, dy: "0.35em"});
    }
  });
  g.append("circle").attr("cx", cx).attr("cy", cy).attr("r", 0.9).attr("fill", "#FFFF55").attr("stroke", "#888").attr("stroke-width", 0.15);
  txt(g, 1184.3, 20.3, "Cladogram", {fs: 7.2, fill: "#333"});
  const colX = [1293.8, 1359.5, 1427.6, 1502.8];
  jLegendNames.forEach((nm, i) => {
    const c = Math.floor(i / 26), r = i % 26, x = colX[c], y = 32.5 + r * 4.26;
    g.append("rect").attr("x", x).attr("y", y - 1.3).attr("width", 6.6).attr("height", 2.6).attr("fill", lefseColor[sigGroup.get(nm)]).attr("stroke", "#000").attr("stroke-width", 0.25);
    txt(g, x + 8.8, y + 1.05, `${jCodes[i]}: ${nm}`, {fs: 3, fill: "#333"});
  });
  groups.forEach((gr, i) => {
    const yy = 37 + i * 6.6;
    g.append("rect").attr("x", 1075.1).attr("y", yy - 1.3).attr("width", 10.4).attr("height", 2.6).attr("fill", lefseColor[gr]).attr("stroke", "#000").attr("stroke-width", 0.3);
    txt(g, 1089.4, yy + 1.4, gr, {fs: 3.8, fill: "#333"});
  });
})();

// ---------- L box plots ----------
const boxColors = ["#F0AC3C", "#5DD2F3", "#EF3E4A"];
function boxPanel(o) {
  const g = svg.append("g");
  const x = d3.scalePoint().domain(o.taxa).range(o.tickRange);
  const y = d3.scaleLinear().domain(o.domain).range([o.yBottom, o.yTop]);
  const offs = [-16.6, 0, 16.7], bw = 14.8;
  const ay = g.append("g").attr("transform", `translate(${o.axisX},0)`)
    .call(d3.axisLeft(y).tickValues(o.ticks).tickSize(3).tickSizeOuter(0).tickPadding(2.2).tickFormat(o.fmt));
  styleAxis(ay, "#222", 1, SANS, 7.8, "normal", "#222");
  line(g, o.axisX - 0.5, o.yBottom, o.xEnd, o.yBottom, "#222", 1);
  o.taxa.forEach((t, ti) => {
    line(g, x(t), o.yBottom, x(t), o.yBottom + 3, "#222", 1);
    txt(g, x(t), o.yBottom + 9, t, {fs: 8.8, fill: "#222", rot: 28});
    groups.forEach((gr, gi) => {
      const s = o.stats[ti][gi], cx = x(t) + offs[gi], c = boxColors[gi];
      line(g, cx, y(s[0]), cx, y(s[4]), c, 1.1);
      line(g, cx - 3.3, y(s[0]), cx + 3.3, y(s[0]), c, 1.1);
      line(g, cx - 3.3, y(s[4]), cx + 3.3, y(s[4]), c, 1.1);
      const top = y(s[3]), h = Math.max(1.6, y(s[1]) - y(s[3]));
      g.append("rect").attr("x", cx - bw / 2).attr("y", Math.min(top, y(s[1]) - 0.8)).attr("width", bw).attr("height", h).attr("fill", c);
      line(g, cx - bw / 2, y(s[2]), cx + bw / 2, y(s[2]), c, 0.8);
    });
    txt(g, x(t) + offs[1], y(o.stats[ti][1][4]) - 8.5, "##", {ff: SERIF, fs: 12.5, fill: "#222", anchor: "middle"});
    const zy = y(o.stats[ti][2][4]) - 9.5;
    [0, 15].forEach(dx => tri(g, x(t) + offs[2] + dx, zy, 38));
  });
  txt(g, o.titleX, o.titleY, "Abudance", {fw: "bold", fs: 10, fill: "#222", anchor: "middle", rot: -90, dy: "0.35em"});
  groups.forEach((gr, i) => {
    const yy = o.legendY[i];
    g.append("rect").attr("x", o.legendX).attr("y", yy - 3.4).attr("width", 6.7).attr("height", 6.8).attr("fill", boxColors[i]);
    txt(g, o.legendX + 9.9, yy + 3.2, gr, {fs: 8.8, fill: "#222"});
  });
}
boxPanel({taxa: lTopTaxa, stats: lTopStats, ticks: lTopTicks, fmt: d3.format("d"), domain: [-4.3, 89.7], yBottom: 395.1, yTop: 235.8,
  axisX: 1209.7, xEnd: 1419.3, tickRange: [1244.7, 1384.4], titleX: 1175.5, titleY: 315.2, legendX: 1431.4, legendY: [300.8, 313.2, 326.0]});
boxPanel({taxa: lMidTaxa, stats: lMidStats, ticks: lMidTicks, fmt: d3.format("d"), domain: [-0.41, 8.17], yBottom: 624.1, yTop: 462.4,
  axisX: 1211.1, xEnd: 1420.7, tickRange: [1246.5, 1386.3], titleX: 1180.4, titleY: 543, legendX: 1452.9, legendY: [528.8, 541.6, 554.0]});
boxPanel({taxa: lBotTaxa, stats: lBotStats, ticks: lBotTicks, fmt: d3.format(".1f"), domain: [-0.032, 0.634], yBottom: 865.8, yTop: 705.1,
  axisX: 1208.9, xEnd: 1487.8, tickRange: [1243.9, 1453.4], titleX: 1172.4, titleY: 784.8, legendX: 1508, legendY: [770.1, 783, 795.3]});
</script>
</body></html>
